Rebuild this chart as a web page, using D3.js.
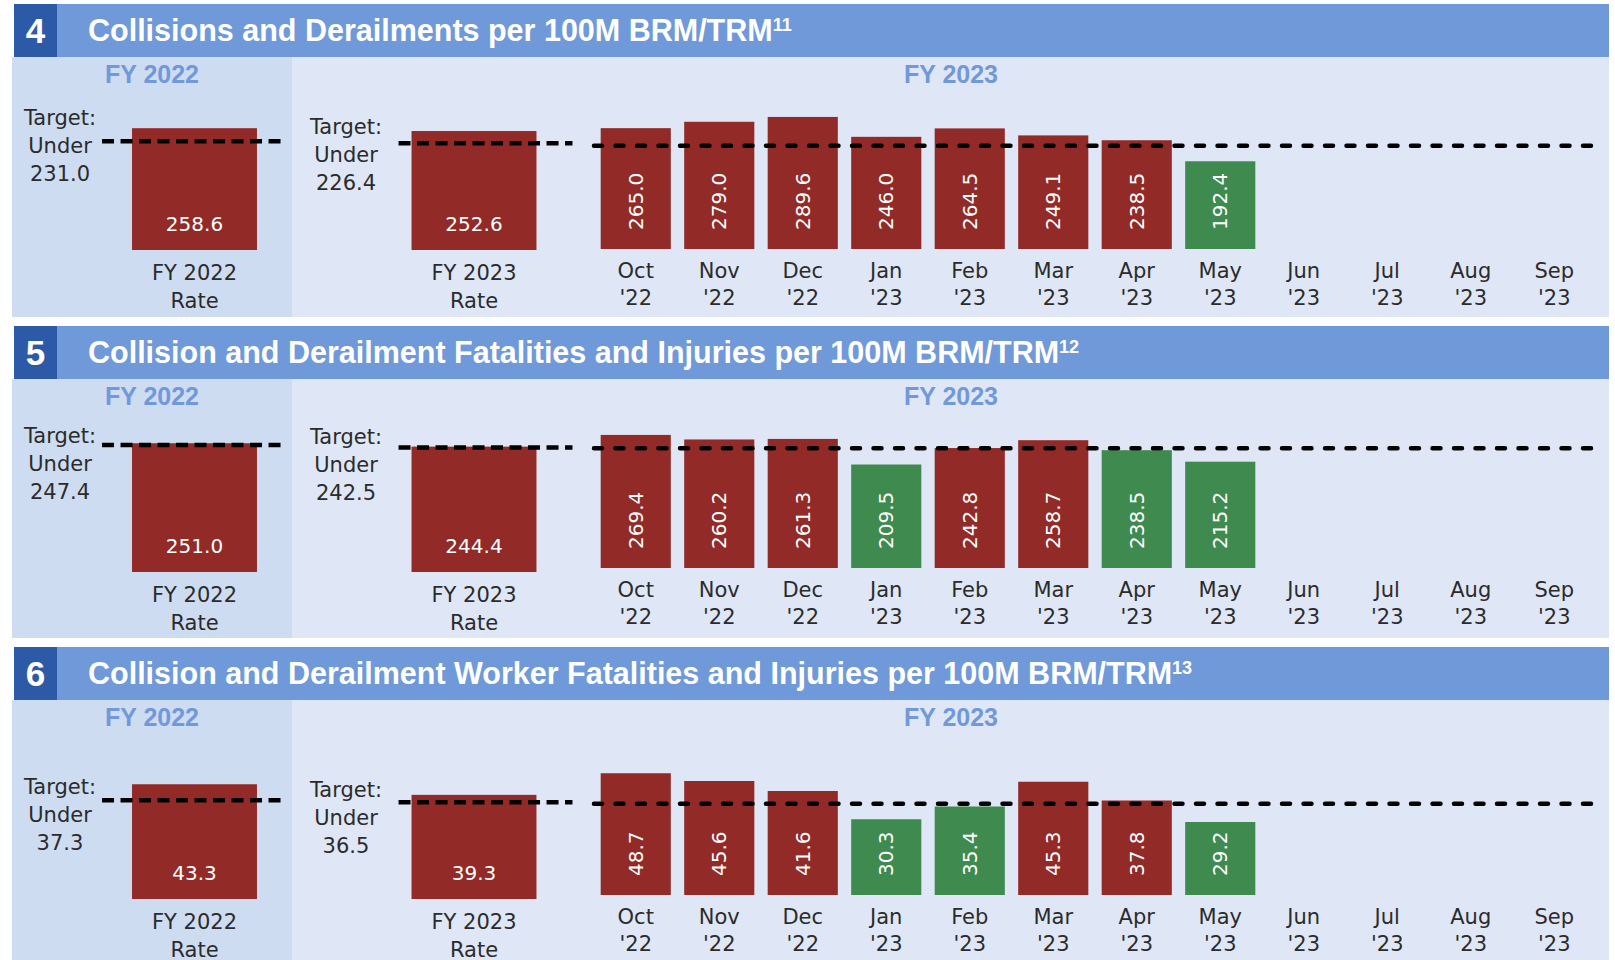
<!DOCTYPE html>
<html>
<head>
<meta charset="utf-8">
<script src="https://cdn.jsdelivr.net/npm/d3@7"></script>
<style>
  body { margin: 0; background: #fff; }
  .title { font-family: "Liberation Sans", Arial, sans-serif; font-weight: bold; fill: #fff; }
  .fyhead { font-family: "Liberation Sans", Arial, sans-serif; font-weight: bold; fill: #7199da; font-size: 25px; }
  .lbl { font-family: "DejaVu Sans", sans-serif; fill: #2b2b2b; font-size: 21px; }
  .val { font-family: "DejaVu Sans", sans-serif; fill: #fff; font-size: 20px; }
</style>
</head>
<body>
<div id="chart"></div>
<script>
// monthly safety dashboard, sections 4-6
var months = ["Oct", "Nov", "Dec", "Jan", "Feb", "Mar", "Apr", "May", "Jun", "Jul", "Aug", "Sep"];
var monthYears = ["'22", "'22", "'22", "'23", "'23", "'23", "'23", "'23", "'23", "'23", "'23", "'23"];

var panelNumbers = ["4", "5", "6"];
var panelTitles = [
  "Collisions and Derailments per 100M BRM/TRM",
  "Collision and Derailment Fatalities and Injuries per 100M BRM/TRM",
  "Collision and Derailment Worker Fatalities and Injuries per 100M BRM/TRM"
];
var panelNotes = ["11", "12", "13"];

var monthlyCollisions = [265.0, 279.0, 289.6, 246.0, 264.5, 249.1, 238.5, 192.4];
var monthlyFatalInjuries = [269.4, 260.2, 261.3, 209.5, 242.8, 258.7, 238.5, 215.2];
var monthlyWorkerFatalInjuries = [48.7, 45.6, 41.6, 30.3, 35.4, 45.3, 37.8, 29.2];

var rateFY2022 = [258.6, 251.0, 43.3];
var rateFY2023 = [252.6, 244.4, 39.3];
var targetFY2022 = [231.0, 247.4, 37.3];
var targetFY2023 = [226.4, 242.5, 36.5];
var rateNames = ["FY 2022", "FY 2023"];

var monthly = [monthlyCollisions, monthlyFatalInjuries, monthlyWorkerFatalInjuries];

// per panel geometry (px, relative to panel top) and px per unit for the two scales
var layout = [
  {top: 4,   bottom: 317, mBase: 245, mK: 0.456, sBase: 246, sK: 0.471, tgt: [4, 11]},
  {top: 326, bottom: 638, mBase: 242, mK: 0.494, sBase: 246, sK: 0.513, tgt: [18, 17]},
  {top: 647, bottom: 960, mBase: 248, mK: 2.5,   sBase: 252, sK: 2.65,  tgt: [14, 15]}
];

var width = 1615, height = 960;
var red = "#922a27", green = "#3e8a4f";

var svg = d3.select("#chart").append("svg")
    .attr("width", width)
    .attr("height", height);

var xM = d3.scaleBand()
    .domain(months)
    .range([594, 1596])
    .paddingInner(0.16)
    .paddingOuter(0.08);

var xS = d3.scaleBand()
    .domain(rateNames)
    .range([54.75, 613.75])
    .paddingInner(0.553)
    .paddingOuter(0.2765);

var targetX = [60, 346];
var dashExt = [[30, 30], [13, 36]];

layout.forEach(function(L, i) {
  var g = svg.append("g").attr("transform", "translate(0," + L.top + ")");
  var h = L.bottom - L.top;

  // backgrounds
  g.append("rect").attr("x", 292).attr("y", 53).attr("width", 1609 - 292).attr("height", h - 53).attr("fill", "#dfe7f6");
  g.append("rect").attr("x", 12).attr("y", 53).attr("width", 280).attr("height", h - 53).attr("fill", "#cedcf2");
  g.append("rect").attr("x", 14).attr("y", 0).attr("width", 1609 - 14).attr("height", 53).attr("fill", "#6f99d9");
  g.append("rect").attr("x", 14).attr("y", 0).attr("width", 43).attr("height", 53).attr("fill", "#2d5aa6");

  g.append("text").attr("class", "title")
      .attr("x", 35.5).attr("y", 39)
      .attr("text-anchor", "middle")
      .style("font-size", "35px")
      .text(panelNumbers[i]);

  var t = g.append("text").attr("class", "title")
      .attr("x", 88).attr("y", 37)
      .style("font-size", "30.5px");
  t.append("tspan").text(panelTitles[i]);
  t.append("tspan").attr("dy", -10).style("font-size", "18px").text(panelNotes[i]);

  g.append("text").attr("class", "fyhead").attr("x", 152).attr("y", 79).attr("text-anchor", "middle").text("FY 2022");
  g.append("text").attr("class", "fyhead").attr("x", 951).attr("y", 79).attr("text-anchor", "middle").text("FY 2023");

  // summary rate bars
  var rates = [rateFY2022[i], rateFY2023[i]];
  var targets = [targetFY2022[i], targetFY2023[i]];
  var yS = d3.scaleLinear().domain([0, 100]).range([L.sBase, L.sBase - 100 * L.sK]);

  rateNames.forEach(function(name, j) {
    var x0 = xS(name), bw = xS.bandwidth(), cx = x0 + bw / 2;
    g.append("rect")
        .attr("x", x0).attr("y", yS(rates[j]))
        .attr("width", bw).attr("height", yS(0) - yS(rates[j]))
        .attr("fill", rates[j] < targets[j] ? green : red);
    g.append("text").attr("class", "val")
        .attr("x", cx).attr("y", L.sBase - 19)
        .attr("text-anchor", "middle")
        .text(d3.format(".1f")(rates[j]));
    g.append("line")
        .attr("x1", x0 - dashExt[j][0]).attr("x2", x0 + bw + dashExt[j][1])
        .attr("y1", yS(targets[j])).attr("y2", yS(targets[j]))
        .attr("stroke", "#000").attr("stroke-width", 4.5)
        .attr("stroke-dasharray", "12,6.5");
    var lab = g.append("text").attr("class", "lbl").attr("text-anchor", "middle");
    lab.append("tspan").attr("x", cx).attr("y", L.sBase + 29.5).text(name);
    lab.append("tspan").attr("x", cx).attr("y", L.sBase + 57.5).text("Rate");

    var mid = yS(targets[j]) + L.tgt[j] + 7.5;
    var tt = g.append("text").attr("class", "lbl").attr("text-anchor", "middle");
    tt.append("tspan").attr("x", targetX[j]).attr("y", mid - 28).text("Target:");
    tt.append("tspan").attr("x", targetX[j]).attr("y", mid).text("Under");
    tt.append("tspan").attr("x", targetX[j]).attr("y", mid + 28).text(d3.format(".1f")(targets[j]));
  });

  // monthly bars
  var vals = monthly[i];
  var yM = d3.scaleLinear().domain([0, 100]).range([L.mBase, L.mBase - 100 * L.mK]);

  g.selectAll(".mbar")
      .data(vals)
    .enter().append("rect")
      .attr("class", "mbar")
      .attr("x", function(d, k) { return xM(months[k]); })
      .attr("y", function(d) { return yM(d); })
      .attr("width", xM.bandwidth())
      .attr("height", function(d) { return yM(0) - yM(d); })
      .attr("fill", function(d) { return d < targetFY2023[i] ? green : red; });

  g.append("line")
      .attr("x1", xM.range()[0]).attr("x2", xM.range()[1])
      .attr("y1", yM(targetFY2023[i])).attr("y2", yM(targetFY2023[i]))
      .attr("stroke", "#000").attr("stroke-width", 4.5)
      .attr("stroke-linecap", "round")
      .attr("stroke-dasharray", "8,13.5");

  g.selectAll(".mval")
      .data(vals)
    .enter().append("text")
      .attr("class", "val mval")
      .attr("transform", function(d, k) {
        return "translate(" + (xM(months[k]) + xM.bandwidth() / 2) + "," + (L.mBase - 19) + ") rotate(-90)";
      })
      .attr("dy", "0.36em")
      .text(function(d) { return d3.format(".1f")(d); });

  months.forEach(function(m, k) {
    var cx = xM(m) + xM.bandwidth() / 2;
    var ml = g.append("text").attr("class", "lbl").attr("text-anchor", "middle");
    ml.append("tspan").attr("x", cx).attr("y", L.mBase + 28.5).text(m);
    ml.append("tspan").attr("x", cx).attr("y", L.mBase + 55.5).text(monthYears[k]);
  });
});
</script>
</body>
</html>
